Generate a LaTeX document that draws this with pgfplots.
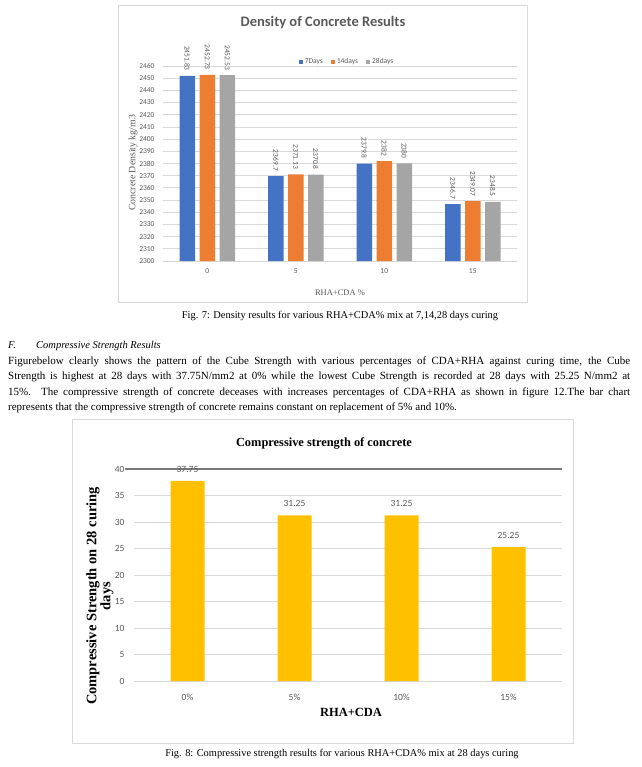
\documentclass[border=0pt]{standalone}
\usepackage{fontspec}
\setmainfont{Liberation Serif}
\newfontfamily\calib{Carlito}
\usepackage{pgfplots}
\pgfplotsset{compat=1.18}
\definecolor{cblue}{HTML}{4472C4}
\definecolor{corange}{HTML}{ED7D31}
\definecolor{cgray}{HTML}{A5A5A5}
\definecolor{cyellow}{HTML}{FFC000}
\definecolor{gridc}{HTML}{D9D9D9}
\definecolor{txt}{HTML}{595959}
\begin{document}
\begin{tikzpicture}[x=1pt,y=1pt]
\path (0,0) rectangle (641,-767);
% chart 1 frame and labels
\draw[gridc] (118,-5) rectangle (527,-302);
\node[font=\calib\bfseries\fontsize{14.5}{16}\selectfont, text=txt] at (323,-23) {Density of Concrete Results};
\node[rotate=90, font=\fontsize{9.8}{11}\selectfont, text=txt] at (133,-163) {Concrete Density kg/m3};
\node[font=\fontsize{8.5}{10}\selectfont, text=txt] at (340,-293) {RHA+CDA \%};

\begin{axis}[at={(163pt,-261pt)}, anchor=south west, scale only axis,
  width=354pt, height=195pt,
  ybar=4.5pt, bar width=15.5pt,
  ymin=2300, ymax=2460, ytick={2300,2310,...,2460},
  xmin=-0.5, xmax=3.5, xtick={0,1,2,3}, xticklabels={0,5,10,15},
  axis line style={draw=none}, major tick length=0,
  ymajorgrids, grid style={gridc, line width=0.8pt},
  tick label style={font=\calib\fontsize{7.5}{8}\selectfont, text=txt},
  yticklabel style={xshift=-5pt},
  xticklabel style={yshift=-4pt},
  /pgf/number format/assume math mode=true, /pgf/number format/1000 sep={},
  nodes near coords,
  every node near coord/.append style={rotate=-90, anchor=east, inner xsep=5pt,
    font=\calib\fontsize{7.5}{8}\selectfont, text=txt},
  legend columns=3,
  legend style={at={(0.52,1.02)}, anchor=center, draw=none, fill=none,
    font=\calib\fontsize{7.5}{8}\selectfont, text=txt,
    /tikz/every even column/.append style={column sep=6pt}},
  legend image code/.code={\fill[#1] (0pt,-2pt) rectangle (4pt,2pt);},
]
\addplot[fill=cblue, draw=none] coordinates {(0,2451.83) (1,2369.7) (2,2379.8) (3,2346.7)};
\addlegendentry{7Days}
\addplot[fill=corange, draw=none] coordinates {(0,2452.73) (1,2371.13) (2,2382) (3,2349.07)};
\addlegendentry{14days}
\addplot[fill=cgray, draw=none] coordinates {(0,2452.53) (1,2370.8) (2,2380) (3,2348.5)};
\addlegendentry{28days}
\end{axis}

\node[anchor=base, font=\fontsize{10.4}{12}\selectfont] at (340,-318) {Fig. 7: Density results for various RHA+CDA\% mix at 7,14,28 days curing};

% text
\node[anchor=base west, font=\itshape\fontsize{10.5}{12}\selectfont, inner sep=0] at (8,-348) {F.};
\node[anchor=base west, font=\itshape\fontsize{10.5}{12}\selectfont, inner sep=0] at (36,-348) {Compressive Strength Results};
\node[anchor=base west, inner sep=0, text width=622pt, align=justify,
  font=\fontsize{11}{15.6}\selectfont] at (8,-364) {\sloppy
Figurebelow clearly shows the pattern of the Cube Strength with various percentages of CDA+RHA against curing time, the Cube\linebreak
Strength is highest at 28 days with 37.75N/mm2 at 0\% while the lowest Cube Strength is recorded at 28 days with 25.25 N/mm2 at\linebreak
15\%. The compressive strength of concrete deceases with increases percentages of CDA+RHA as shown in figure 12.The bar chart\linebreak
represents that the compressive strength of concrete remains constant on replacement of 5\% and 10\%.};

% chart 2 frame and labels
\draw[gridc] (72,-419) rectangle (573,-743);
\node[font=\bfseries\fontsize{12.4}{14}\selectfont] at (324,-443) {Compressive strength of concrete};
\node[rotate=90, align=center, font=\bfseries\fontsize{14.5}{14}\selectfont] at (100,-596) {Compressive Strength on 28 curing\\days};
\node[font=\bfseries\fontsize{12.5}{14}\selectfont] at (351,-712) {RHA+CDA};

\begin{axis}[at={(134pt,-681pt)}, anchor=south west, scale only axis,
  width=428pt, height=212pt, clip=false,
  ymin=0, ymax=40, ytick={0,5,...,40},
  xmin=-0.5, xmax=3.5, xtick={0,1,2,3}, xticklabels={0\%,5\%,10\%,15\%},
  axis line style={draw=none}, major tick length=0,
  ymajorgrids, grid style={gridc, line width=0.8pt},
  tick label style={font=\calib\fontsize{9.5}{10}\selectfont, text=txt},
  yticklabel style={xshift=-6pt},
  xticklabel style={yshift=-9pt},
  /pgf/number format/assume math mode=true,
]
\addplot[ybar, bar width=34pt, fill=cyellow, draw=none,
  nodes near coords,
  every node near coord/.append style={font=\calib\fontsize{9.5}{10}\selectfont, text=txt, yshift=5pt}]
  coordinates {(0,37.75) (1,31.25) (2,31.25) (3,25.25)};
\addplot[color=gray!95!black, line width=1.6pt, mark=none] coordinates {(-0.585,40) (3.5,40)};
\end{axis}

\node[anchor=base, font=\fontsize{10.4}{12}\selectfont] at (342,-756) {Fig. 8: Compressive strength results for various RHA+CDA\% mix at 28 days curing};
\end{tikzpicture}
\end{document}
